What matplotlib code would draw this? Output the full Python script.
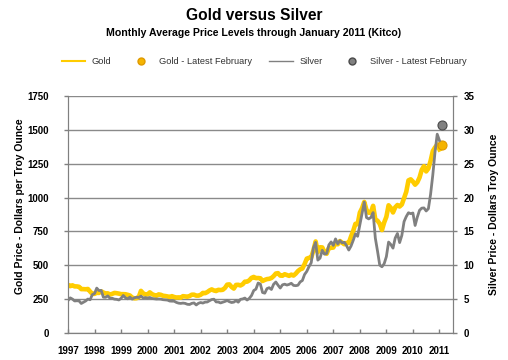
import numpy as np
import matplotlib
matplotlib.use('Agg')
import matplotlib.pyplot as plt
from matplotlib.lines import Line2D

plt.rcParams['font.family'] = ['Liberation Sans', 'DejaVu Sans']

# -------- DATA --------
# monthly averages, Jan 1997 .. Jan 2011
gold = [
    355, 346, 352, 344, 344, 341, 324, 324, 323, 325, 306, 289,   # 1997
    289, 297, 296, 308, 299, 292, 293, 284, 289, 296, 294, 291,   # 1998
    287, 287, 286, 282, 277, 262, 256, 257, 265, 311, 293, 284,   # 1999
    285, 300, 287, 280, 275, 285, 282, 275, 273, 270, 266, 272,   # 2000
    266, 262, 263, 261, 272, 270, 268, 273, 283, 283, 276, 276,   # 2001
    282, 296, 294, 302, 314, 322, 314, 310, 319, 317, 319, 333,   # 2002
    357, 359, 340, 328, 355, 356, 351, 360, 379, 379, 389, 407,   # 2003
    414, 405, 406, 404, 384, 392, 398, 400, 406, 420, 439, 442,   # 2004
    424, 423, 434, 428, 422, 431, 424, 438, 457, 470, 476, 509,   # 2005
    549, 555, 557, 610, 676, 596, 633, 632, 598, 585, 628, 629,   # 2006
    631, 665, 655, 679, 667, 655, 665, 665, 712, 754, 806, 803,   # 2007
    889, 922, 968, 909, 888, 889, 939, 839, 829, 806, 760, 816,   # 2008
    858, 943, 924, 890, 928, 945, 934, 949, 996, 1043, 1127, 1135,  # 2009
    1118, 1095, 1113, 1148, 1205, 1232, 1193, 1215, 1271, 1343, 1370, 1391,  # 2010
    1356,  # 2011
]
silver = [
    4.79, 5.19, 5.01, 4.73, 4.76, 4.74, 4.36, 4.55, 4.73, 5.01, 4.91, 5.67,
    5.83, 6.63, 6.27, 6.29, 5.29, 5.27, 5.48, 5.13, 5.13, 5.00, 4.97, 4.88,
    5.12, 5.54, 5.20, 5.05, 5.30, 5.00, 5.19, 5.28, 5.24, 5.45, 5.17, 5.23,
    5.16, 5.25, 5.10, 5.06, 5.01, 5.02, 5.00, 4.92, 4.89, 4.86, 4.72, 4.70,
    4.70, 4.52, 4.41, 4.37, 4.42, 4.37, 4.24, 4.21, 4.38, 4.44, 4.14, 4.39,
    4.50, 4.42, 4.56, 4.58, 4.77, 4.94, 4.99, 4.59, 4.58, 4.44, 4.55, 4.66,
    4.80, 4.62, 4.50, 4.56, 4.78, 4.55, 4.97, 5.03, 5.16, 4.87, 5.12, 5.53,
    6.27, 6.48, 7.38, 7.23, 5.98, 5.88, 6.56, 6.69, 6.43, 7.20, 7.53, 7.06,
    6.64, 7.11, 7.21, 7.08, 7.18, 7.34, 7.03, 6.99, 7.05, 7.54, 7.75, 8.64,
    9.10, 9.80, 10.37, 12.57, 13.38, 10.76, 11.06, 12.21, 11.64, 11.75, 13.01, 13.45,
    12.94, 13.90, 13.17, 13.64, 13.32, 13.40, 12.89, 12.25, 12.83, 13.68, 14.64, 14.28,
    15.97, 17.63, 19.33, 17.05, 16.85, 17.06, 17.78, 14.02, 12.09, 10.03, 9.78, 10.23,
    11.28, 13.43, 13.07, 12.53, 14.03, 14.70, 13.35, 14.42, 16.45, 17.20, 17.76, 17.62,
    17.72, 15.88, 17.12, 18.12, 18.44, 18.47, 18.02, 18.36, 20.50, 23.34, 26.72, 29.36,
    28.44,
]
gold_feb = 1388
silver_feb = 30.7
years = list(range(1997, 2012))
# ----------------------

dates = 1997 + np.arange(len(gold)) / 12.0
feb_x = 2011 + 1 / 12.0

GOLD = '#FFCC00'
SILVER = '#808080'
GRID = '#8a8a8a'

fig = plt.figure(figsize=(5.08, 3.6), dpi=100)
ax = fig.add_axes([68 / 508, 1 - 333 / 360, (452.7 - 68) / 508, (333 - 96) / 360])
ax2 = ax.twinx()

ax.plot(dates, gold, color=GOLD, lw=3.3, solid_joinstyle='round')
ax.plot([feb_x], [gold_feb], 'o', ms=6.5, mfc='#F5B400', mec='#E09A00', mew=0.8)
ax2.plot(dates, silver, color=SILVER, lw=2, solid_joinstyle='round')
ax2.plot([feb_x], [silver_feb], 'o', ms=6.5, mfc='#808080', mec='#4a4a4a', mew=0.8)

ax.set_xlim(1997, 2011.5)
ax.set_ylim(0, 1750)
ax2.set_ylim(0, 35)
ax.set_yticks(np.arange(0, 1751, 250))
ax2.set_yticks(np.arange(0, 36, 5))
ax.set_xticks(years)
ax.set_xticklabels([str(y) for y in years])

ax.grid(axis='y', color=GRID, lw=1)
ax.set_axisbelow(True)

for a in (ax, ax2):
    a.spines['top'].set_visible(False)
    for s in ('left', 'right', 'bottom'):
        a.spines[s].set_color(SILVER)
    a.tick_params(length=3, color=SILVER, width=1, labelsize=7, pad=4)
    for lab in a.get_yticklabels() + a.get_xticklabels():
        lab.set_fontweight('bold')
ax.tick_params(axis='x', direction='in', pad=9)
ax.tick_params(axis='y', pad=11)
ax2.tick_params(axis='y', pad=5)

ax.set_ylabel('Gold Price - Dollars per Troy Ounce', fontsize=7.5, fontweight='bold')
ax.yaxis.set_label_coords(-0.112, 0.535)
ax2.set_ylabel('Silver Price - Dollars Troy Ounce', fontsize=7.5, fontweight='bold', labelpad=10)

fig.text(0.5, 1 - 15 / 360, 'Gold versus Silver', ha='center', va='center',
         fontsize=11.2, fontweight='bold')
fig.text(0.5, 1 - 33 / 360, 'Monthly Average Price Levels through January 2011 (Kitco)',
         ha='center', va='center', fontsize=7.6, fontweight='bold')

handles = [
    Line2D([], [], color=GOLD, lw=1.5),
    Line2D([], [], ls='none', marker='o', ms=5, mfc='#F5B400', mec='#E09A00'),
    Line2D([], [], color=SILVER, lw=1),
    Line2D([], [], ls='none', marker='o', ms=5, mfc='#808080', mec='#4a4a4a'),
]
labels = ['Gold', 'Gold - Latest February', 'Silver', 'Silver - Latest February']
fig.legend(handles, labels, ncol=4, loc='center', bbox_to_anchor=(0.52, 1 - 62 / 360),
           frameon=False, fontsize=6.7, handlelength=2.5, handletextpad=0.7,
           columnspacing=1.9, labelcolor='#333333')

fig.savefig('out.png', dpi=100)
